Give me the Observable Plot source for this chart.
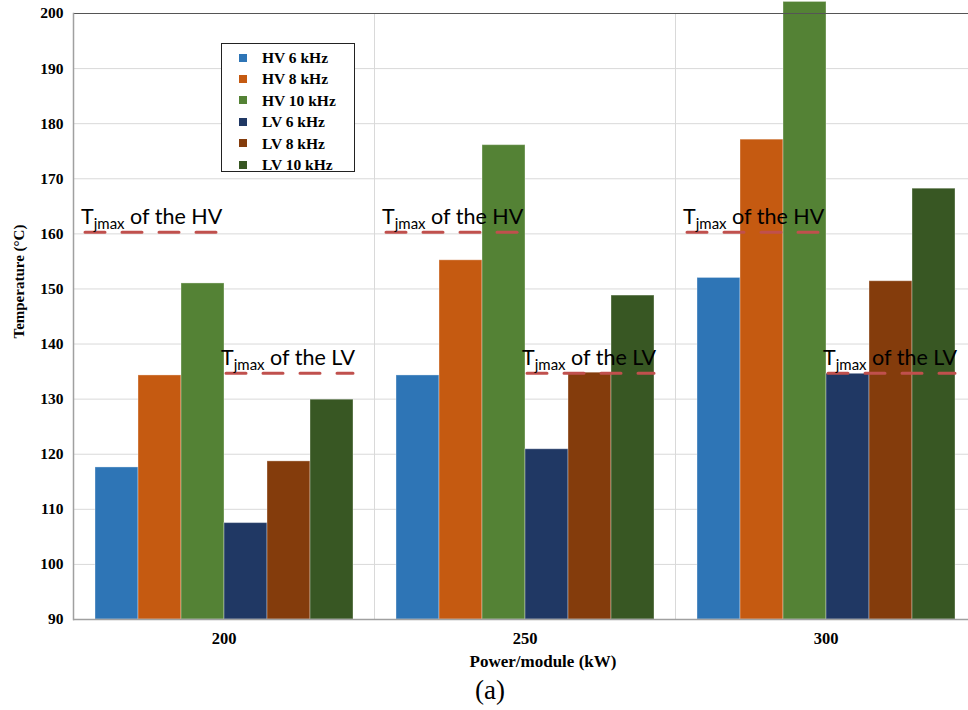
<!DOCTYPE html>
<html><head><meta charset="utf-8">
<script src="https://cdn.jsdelivr.net/npm/d3@7"></script>
<script src="https://cdn.jsdelivr.net/npm/@observablehq/plot@0.6"></script>
<style>
html,body{margin:0;padding:0;background:#fff;overflow:hidden}
#wrap{position:relative;width:968px;height:710px;overflow:hidden}
#legend{position:absolute;left:221px;top:43px;width:134px;height:129px;border:1px solid #222;background:#fff;
  font:bold 15.5px "Liberation Serif",serif;color:#000;box-sizing:border-box;padding-top:3px}
#legend .row{height:21.4px;line-height:21.4px;display:flex;align-items:center}
#legend .sw{width:8px;height:8px;margin-left:17px;margin-right:15px}
#caption{position:absolute;left:440px;width:100px;text-align:center;top:675px;font:27px "Liberation Serif",serif;color:#000}
</style>
</head><body>
<div id="wrap"><div id="chart"></div><div id="legend"></div><div id="caption">(a)</div></div>
<script>
// ---- data ----
const powers = [200, 250, 300];
const series = ["HV 6 kHz", "HV 8 kHz", "HV 10 kHz", "LV 6 kHz", "LV 8 kHz", "LV 10 kHz"];
const hv6  = [117.6, 134.3, 152.0];
const hv8  = [134.3, 155.2, 177.1];
const hv10 = [151.0, 176.1, 202.1];
const lv6  = [107.5, 120.9, 134.6];
const lv8  = [118.7, 134.8, 151.4];
const lv10 = [129.9, 148.8, 168.2];
const colors = ["#2e75b6", "#c55a11", "#548235", "#203864", "#843c0c", "#385723"];
const yTicks = [90, 100, 110, 120, 130, 140, 150, 160, 170, 180, 190, 200];
const tjmaxHV = 160.3;
const tjmaxLV = 134.7;

const valuesBySeries = [hv6, hv8, hv10, lv6, lv8, lv10];
const rows = [];
powers.forEach((p, i) => series.forEach((s, j) => rows.push({power: p, series: s, value: valuesBySeries[j][i]})));

function subRender(label) {
  return function(index, scales, values, dims, context, next) {
    const g = next(index, scales, values, dims, context);
    g.querySelectorAll("text").forEach(t => {
      t.textContent = "";
      const ns = "http://www.w3.org/2000/svg";
      const a = document.createElementNS(ns, "tspan"); a.textContent = "T";
      const b = document.createElementNS(ns, "tspan"); b.textContent = "jmax";
      b.setAttribute("font-size", "15"); b.setAttribute("dy", "5");
      const c = document.createElementNS(ns, "tspan"); c.textContent = " of the " + label;
      c.setAttribute("dy", "-5");
      t.append(a, b, c);
    });
    return g;
  };
}

const annoFont = "Lato, 'Open Sans', sans-serif";

const chart = Plot.plot({
  width: 968, height: 672,
  marginLeft: 72, marginRight: -9, marginTop: 13, marginBottom: 53,
  style: {fontFamily: "'Liberation Serif', serif", color: "#000", background: "#fff", overflow: "visible"},
  fx: {domain: powers, padding: 0, label: null, axis: null},
  x: {domain: series, paddingInner: 0, paddingOuter: 0.5, axis: null},
  y: {domain: [90, 200], label: null, axis: null},
  color: {domain: series, range: colors},
  marks: [
    Plot.ruleY(yTicks, {stroke: "#d9d9d9", strokeWidth: 1}),
    Plot.frame({stroke: "#d9d9d9"}),
    Plot.barY(rows, {fx: "power", x: "series", y1: 90, y2: "value", fill: "series", stroke: "#ffffff", strokeOpacity: 0.35, strokeWidth: 1, clip: false}),
    Plot.ruleY([90], {stroke: "#a0a0a0", strokeWidth: 1.5}),
    Plot.ruleY([200], {stroke: "#555", strokeWidth: 1.2}),
    Plot.frame({anchor: "left", stroke: "#a0a0a0", strokeWidth: 1.5, facetAnchor: "left"}),
    Plot.ruleY(powers, {fx: d => d, y: () => tjmaxHV, x1: () => "HV 6 kHz", x2: () => "HV 10 kHz",
      stroke: "#c0504d", strokeWidth: 3, strokeDasharray: "20,17", strokeLinecap: "round", insetLeft: -10, insetRight: 4}),
    Plot.ruleY(powers, {fx: d => d, y: () => tjmaxLV, x1: () => "LV 6 kHz", x2: () => "LV 10 kHz",
      stroke: "#c0504d", strokeWidth: 3, strokeDasharray: "20,17", strokeLinecap: "round", insetLeft: 2, insetRight: 0}),
    Plot.text(powers, {fx: d => d, x: () => "HV 6 kHz", y: () => tjmaxHV, text: () => "HV", textAnchor: "start",
      lineAnchor: "bottom", dx: -36, dy: -8, fontSize: 21.5, fontFamily: annoFont, fill: "#000", render: subRender("HV")}),
    Plot.text(powers, {fx: d => d, x: () => "LV 6 kHz", y: () => tjmaxLV, text: () => "LV", textAnchor: "start",
      lineAnchor: "bottom", dx: -25, dy: -8, fontSize: 21.5, fontFamily: annoFont, fill: "#000", render: subRender("LV")}),
    Plot.axisY(yTicks, {tickSize: 0, tickPadding: 10, fontSize: 15.5, fontWeight: "bold", label: null, facetAnchor: "left"}),
    Plot.text(powers, {fx: d => d, frameAnchor: "bottom", text: d => String(d), dy: 24, fontSize: 16.5, fontWeight: "bold", fill: "#000"}),
    Plot.text(["Power/module (kW)"], {fx: () => 250, frameAnchor: "bottom", dx: 18, dy: 47, fontSize: 17, fontWeight: "bold", fill: "#000"}),
    Plot.text(["Temperature (\u00b0C)"], {frameAnchor: "left", rotate: -90, dx: -54, dy: 22, fontSize: 15, fontWeight: "bold", fill: "#000", facetAnchor: "left"})
  ]
});
document.getElementById("chart").append(chart);

const lg = document.getElementById("legend");
series.forEach((s, i) => {
  const r = document.createElement("div"); r.className = "row";
  const sw = document.createElement("span"); sw.className = "sw"; sw.style.background = colors[i];
  const t = document.createElement("span"); t.textContent = s;
  r.append(sw, t); lg.append(r);
});
</script>
</body></html>
